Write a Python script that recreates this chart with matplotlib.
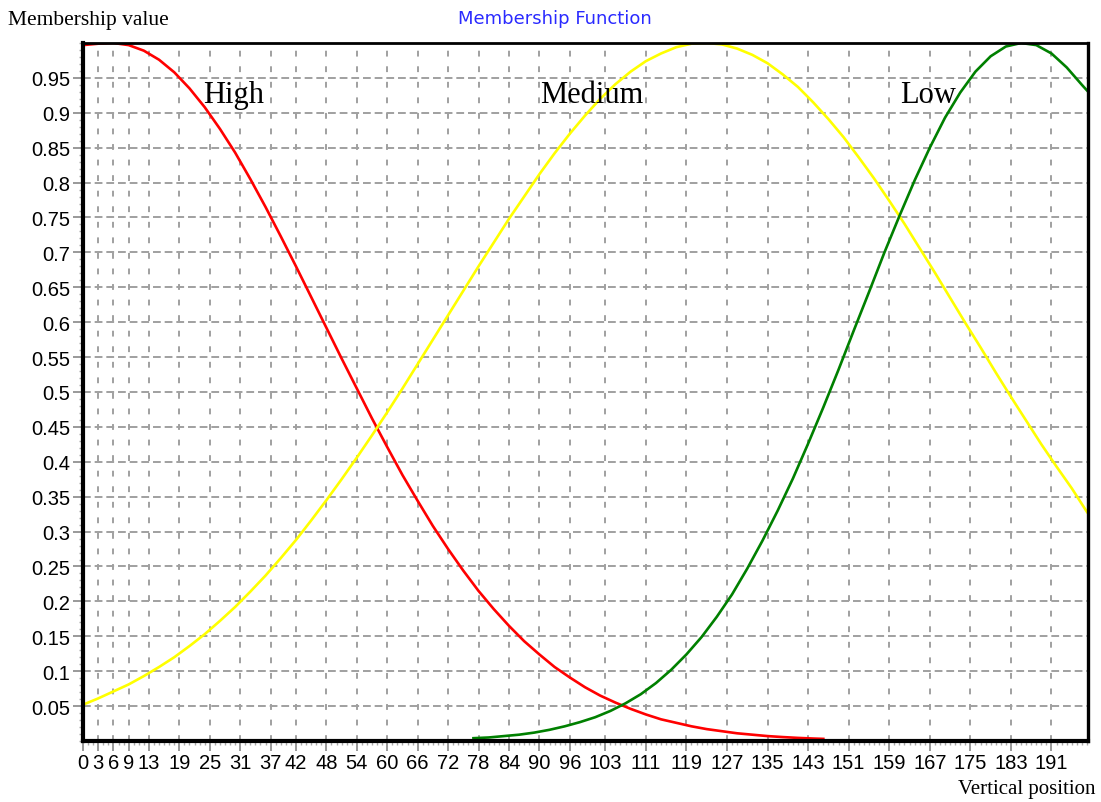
import numpy as np
import matplotlib.pyplot as plt
from matplotlib.ticker import FixedLocator, MultipleLocator

# x tick values shown on the axis (irregular, as in the original software)
tick_vals = [0, 3, 6, 9, 13, 19, 25, 31, 37, 42, 48, 54, 60, 66, 72, 78, 84, 90,
             96, 103, 111, 119, 127, 135, 143, 151, 159, 167, 175, 183, 191]
y_ticks = [0.05, 0.1, 0.15, 0.2, 0.25, 0.3, 0.35, 0.4, 0.45, 0.5, 0.55, 0.6,
           0.65, 0.7, 0.75, 0.8, 0.85, 0.9, 0.95]

# High (red), read every 3 units
high_x = [0, 3, 6, 9, 12, 15, 18, 21, 24, 27, 30, 33, 36, 39, 42, 45, 48, 51,
          54, 57, 60, 63, 66, 69, 72, 75, 78, 81, 84, 87, 90, 93, 96, 99, 102,
          105, 108, 111, 114, 117, 120, 123, 126, 129, 132, 135, 138, 141, 144, 146]
high_y = [0.997, 0.999, 1.0, 0.997, 0.989, 0.976, 0.958, 0.935, 0.908, 0.877,
          0.843, 0.805, 0.765, 0.723, 0.68, 0.636, 0.592, 0.548, 0.505, 0.462,
          0.421, 0.381, 0.344, 0.308, 0.275, 0.244, 0.215, 0.189, 0.165, 0.143,
          0.124, 0.106, 0.091, 0.077, 0.065, 0.055, 0.046, 0.038, 0.031, 0.026,
          0.021, 0.017, 0.014, 0.011, 0.009, 0.007, 0.0056, 0.0044, 0.0035, 0.003]

# Medium (yellow)
med_x = [0, 3, 6, 9, 12, 15, 18, 21, 24, 27, 30, 33, 36, 39, 42, 45, 48, 51, 54,
         57, 60, 63, 66, 69, 72, 75, 78, 81, 84, 87, 90, 93, 96, 99, 102, 105,
         108, 111, 114, 117, 120, 123, 126, 129, 132, 135, 138, 141, 144, 147,
         150, 153, 156, 159, 162, 165, 168, 171, 174, 177, 180, 183, 186, 189,
         192, 195, 198]
med_y = [0.052, 0.061, 0.071, 0.081, 0.093, 0.106, 0.12, 0.136, 0.153, 0.172,
         0.192, 0.214, 0.237, 0.262, 0.288, 0.316, 0.345, 0.375, 0.406, 0.438,
         0.471, 0.505, 0.54, 0.575, 0.61, 0.645, 0.68, 0.714, 0.748, 0.78, 0.812,
         0.842, 0.87, 0.896, 0.92, 0.941, 0.959, 0.974, 0.985, 0.994, 0.999, 1.0,
         0.998, 0.992, 0.983, 0.971, 0.955, 0.937, 0.915, 0.891, 0.865, 0.836,
         0.806, 0.774, 0.741, 0.706, 0.671, 0.635, 0.599, 0.564, 0.528, 0.493,
         0.459, 0.425, 0.393, 0.362, 0.328]

# Low (green)
low_x = [77, 80, 83, 86, 89, 92, 95, 98, 101, 104, 107, 110, 113, 116, 119, 122,
         125, 128, 131, 134, 137, 140, 143, 146, 149, 152, 155, 158, 161, 164,
         167, 170, 173, 176, 179, 182, 185, 188, 191, 194, 197, 198]
low_y = [0.004, 0.005, 0.007, 0.009, 0.012, 0.016, 0.021, 0.027, 0.034, 0.043,
         0.054, 0.067, 0.083, 0.102, 0.124, 0.149, 0.178, 0.21, 0.247, 0.287,
         0.33, 0.376, 0.426, 0.478, 0.532, 0.588, 0.643, 0.699, 0.752, 0.803,
         0.85, 0.893, 0.929, 0.959, 0.981, 0.995, 1.0, 0.997, 0.985, 0.965,
         0.94, 0.932]

fig = plt.figure(figsize=(11.01, 8.03), dpi=100)
ax = fig.add_axes([0.0754, 0.0760, 0.9128, 0.8692])

ax.plot(high_x, high_y, color='#ff0000', lw=1.9, zorder=3)
ax.plot(med_x, med_y, color='#ffff00', lw=1.9, zorder=3)
ax.plot(low_x, low_y, color='#008000', lw=1.9, zorder=3)

ax.set_xlim(0, 198.2)
ax.set_ylim(0, 1.0)

ax.xaxis.set_major_locator(FixedLocator(tick_vals))
ax.xaxis.set_minor_locator(MultipleLocator(1))
ax.yaxis.set_major_locator(FixedLocator(y_ticks))
ax.yaxis.set_minor_locator(MultipleLocator(0.01))
ax.set_yticklabels(['%g' % v for v in y_ticks])

sans = ['Liberation Sans', 'DejaVu Sans']
ax.tick_params(which='major', length=7, width=1.2, color='#888888', pad=2,
               labelsize=14.5)
ax.tick_params(which='minor', length=3, width=1, color='#aaaaaa')
for lab in ax.get_xticklabels() + ax.get_yticklabels():
    lab.set_family(sans)

ax.xaxis.grid(True, which='major', color='#a0a0a0', lw=1.4, linestyle=(0, (3, 5)))
ax.yaxis.grid(True, which='major', color='#a0a0a0', lw=1.4, linestyle=(0, (4, 2)))

for side, w in [('left', 3), ('bottom', 3), ('right', 2.4), ('top', 2)]:
    ax.spines[side].set_linewidth(w)
    ax.spines[side].set_color('black')
    ax.spines[side].set_zorder(4)

serif = ['Liberation Serif', 'DejaVu Serif']
ax.text(23.7, 0.915, 'High', fontsize=22, family=serif, va='baseline')
ax.text(90.1, 0.915, 'Medium', fontsize=22, family=serif, va='baseline')
ax.text(161.1, 0.915, 'Low', fontsize=22, family=serif, va='baseline')

fig.text(8 / 1101, 1 - 20 / 803, 'Membership value', fontsize=15.5, family=serif,
         ha='left', va='center')
fig.text(1096 / 1101, 1 - 790 / 803, 'Vertical position', fontsize=15,
         family=serif, ha='right', va='center')
fig.text(555 / 1101, 1 - 19 / 803, 'Membership Function', fontsize=13,
         color='#2a2aff', ha='center', va='center')

fig.savefig('out.png', dpi=100)
